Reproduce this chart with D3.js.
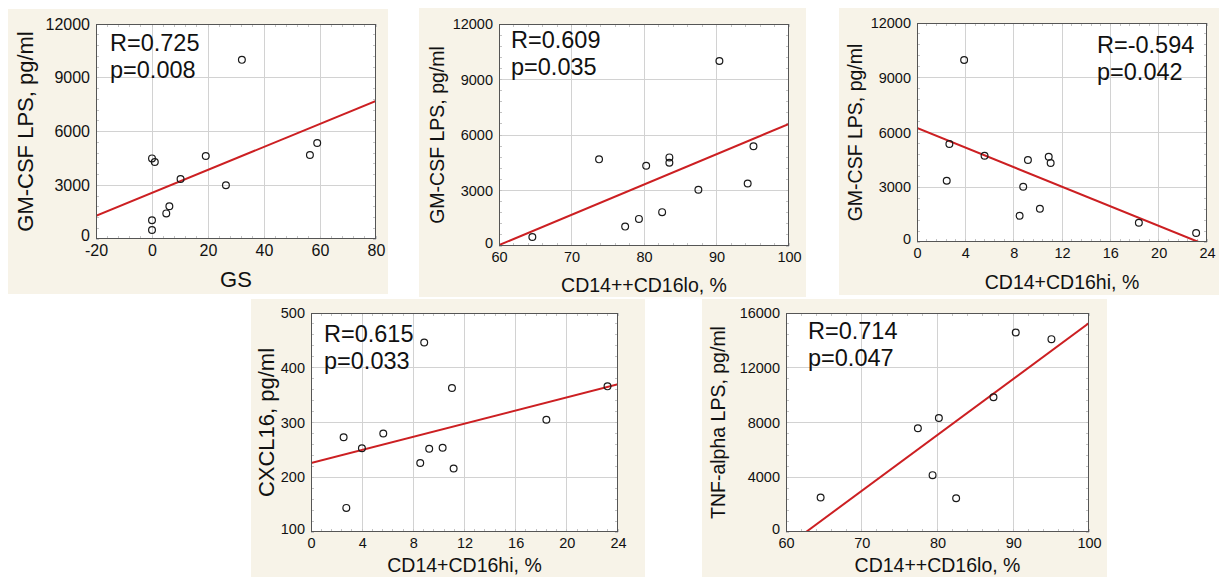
<!DOCTYPE html>
<html>
<head>
<meta charset="utf-8">
<script src="https://cdn.jsdelivr.net/npm/d3@7"></script>
<style>
  html, body { margin: 0; padding: 0; background: #ffffff; }
  svg { display: block; font-family: "Liberation Sans", Arial, sans-serif; }
</style>
</head>
<body>
<svg id="chart" width="1219" height="577"></svg>
<script>
// ---------------- DATA ----------------
// Panel A: GS vs GM-CSF LPS
const gsX      = [0, 1, 0, 0, 5.1, 6.2, 10.2, 19.2, 26.4, 32.1, 56.4, 59.0];
const gsGmcsf  = [4500, 4300, 1050, 500, 1430, 1825, 3350, 4630, 3000, 10000, 4690, 5360];
const gsFitX   = [-20, 80];
const gsFitY   = [1300, 7700];

// Panel B: CD14++CD16lo vs GM-CSF LPS
const loX      = [64.6, 73.8, 77.4, 79.3, 80.3, 82.5, 83.5, 83.5, 87.5, 90.4, 94.3, 95.1];
const loGmcsf  = [490, 4685, 1050, 1465, 4340, 1830, 4790, 4500, 3040, 10000, 3380, 5390];
const loFitX   = [60, 100];
const loFitY   = [50, 6600];

// Panel C: CD14+CD16hi vs GM-CSF LPS
const hiX      = [2.46, 2.68, 3.9, 5.59, 8.49, 8.79, 9.18, 10.17, 10.9, 11.06, 18.36, 23.1];
const hiGmcsf  = [3360, 5370, 9970, 4730, 1440, 3030, 4490, 1825, 4675, 4330, 1057, 493];
const hiFitX   = [0, 23.3];
const hiFitY   = [6250, 0];

// Panel D: CD14+CD16hi vs CXCL16
const cxX      = [2.55, 2.76, 3.98, 5.65, 8.54, 8.85, 9.24, 10.29, 11.02, 11.15, 18.4, 23.18];
const cxY      = [273, 144, 253, 280, 226, 446, 252, 254, 363, 216, 305, 366];
const cxFitX   = [0, 24];
const cxFitY   = [226, 370];

// Panel E: CD14++CD16lo vs TNF-alpha LPS
const tnfX     = [64.57, 77.41, 79.35, 80.18, 82.46, 87.39, 90.33, 95.04];
const tnfY     = [2520, 7575, 4155, 8330, 2470, 9845, 14580, 14090];
const tnfFitX  = [62.64, 100];
const tnfFitY  = [0, 15265];

// Tick labels
const ticksGS     = [-20, 0, 20, 40, 60, 80];
const ticksLo     = [60, 70, 80, 90, 100];
const ticksHi     = [0, 4, 8, 12, 16, 20, 24];
const ticksGmcsf  = [0, 3000, 6000, 9000, 12000];
const ticksCxcl   = [100, 200, 300, 400, 500];
const ticksTnf    = [0, 4000, 8000, 12000, 16000];

// Stats texts
const statsA = ["R=0.725", "p=0.008"];
const statsB = ["R=0.609", "p=0.035"];
const statsC = ["R=-0.594", "p=0.042"];
const statsD = ["R=0.615", "p=0.033"];
const statsE = ["R=0.714", "p=0.047"];

// ---------------- LAYOUT / DRAW ----------------
const svg = d3.select("#chart");
const BEIGE = "#f7f3e8";
const RED = "#cc1f22";
const fmt = d => String(d);   // plain hyphen-minus like the reference

const panels = [
  { id: "A", bg: [8, 9, 380, 285], plot: [96, 24, 376, 239],
    xs: gsX, ys: gsGmcsf, fx: gsFitX, fy: gsFitY,
    xt: ticksGS, yt: ticksGmcsf, xlab: "GS", ylab: "GM-CSF LPS, pg/ml",
    stats: statsA, statX: 110, statY: 51, statAnchor: "start",
    tickFs: 16, xlabFs: 22, ylabFs: 22, ylabOff: 71, xlabOff: 48 },
  { id: "B", bg: [419, 8, 387, 289], plot: [499, 24, 789, 246],
    xs: loX, ys: loGmcsf, fx: loFitX, fy: loFitY,
    xt: ticksLo, yt: ticksGmcsf, xlab: "CD14++CD16lo, %", ylab: "GM-CSF LPS, pg/ml",
    stats: statsB, statX: 511, statY: 48, statAnchor: "start",
    tickFs: 14.5, xlabFs: 19.5, ylabFs: 19.5, ylabOff: 62, xlabOff: 46 },
  { id: "C", bg: [839, 8, 380, 287], plot: [917, 23, 1207, 242],
    xs: hiX, ys: hiGmcsf, fx: hiFitX, fy: hiFitY,
    xt: ticksHi, yt: ticksGmcsf, xlab: "CD14+CD16hi, %", ylab: "GM-CSF LPS, pg/ml",
    stats: statsC, statX: 1097, statY: 53, statAnchor: "start",
    tickFs: 14.5, xlabFs: 19.5, ylabFs: 19.5, ylabOff: 62, xlabOff: 47 },
  { id: "D", bg: [251, 299, 394, 278], plot: [311, 313, 618, 532],
    xs: cxX, ys: cxY, fx: cxFitX, fy: cxFitY,
    xt: ticksHi, yt: ticksCxcl, xlab: "CD14+CD16hi, %", ylab: "CXCL16, pg/ml",
    stats: statsD, statX: 324, statY: 342, statAnchor: "start",
    tickFs: 14.5, xlabFs: 19.5, ylabFs: 22, ylabOff: 45, xlabOff: 40 },
  { id: "E", bg: [702, 299, 405, 278], plot: [786, 313, 1089, 532],
    xs: tnfX, ys: tnfY, fx: tnfFitX, fy: tnfFitY,
    xt: ticksLo, yt: ticksTnf, xlab: "CD14++CD16lo, %", ylab: "TNF-alpha LPS, pg/ml",
    stats: statsE, statX: 808, statY: 339, statAnchor: "start",
    tickFs: 14.5, xlabFs: 19.5, ylabFs: 19.5, ylabOff: 68, xlabOff: 40 }
];

panels.forEach(p => {
  const [x0, y0, x1, y1] = p.plot;
  const g = svg.append("g");

  // beige background
  g.append("rect").attr("x", p.bg[0]).attr("y", p.bg[1])
    .attr("width", p.bg[2]).attr("height", p.bg[3]).attr("fill", BEIGE);

  const x = d3.scaleLinear().domain(d3.extent(p.xt)).range([x0, x1]);
  const y = d3.scaleLinear().domain(d3.extent(p.yt)).range([y1, y0]);

  // plot area
  g.append("rect").attr("x", x0).attr("y", y0).attr("width", x1 - x0).attr("height", y1 - y0)
    .attr("fill", "#ffffff");

  // grid lines
  g.append("g").selectAll("line").data(p.xt.slice(1, -1)).join("line")
    .attr("x1", d => x(d)).attr("x2", d => x(d)).attr("y1", y0).attr("y2", y1)
    .attr("stroke", "#d2d2d2").attr("stroke-width", 1).attr("shape-rendering", "crispEdges");
  g.append("g").selectAll("line").data(p.yt.slice(1, -1)).join("line")
    .attr("x1", x0).attr("x2", x1).attr("y1", d => y(d)).attr("y2", d => y(d))
    .attr("stroke", "#d2d2d2").attr("stroke-width", 1).attr("shape-rendering", "crispEdges");

  // minor ticks (inward on all four sides)
  const xStep = p.xt[1] - p.xt[0], yStep = p.yt[1] - p.yt[0];
  const xMinor = d3.range(p.xt[0], p.xt[p.xt.length - 1] + 1e-9, xStep / 5);
  const yMinor = d3.range(p.yt[0], p.yt[p.yt.length - 1] + 1e-9, yStep / 5);
  const mg = g.append("g").attr("stroke", "#c4c4c4").attr("stroke-width", 1).attr("shape-rendering", "crispEdges");
  mg.append("g").selectAll("line").data(xMinor).join("line")
    .attr("x1", d => x(d)).attr("x2", d => x(d)).attr("y1", y1).attr("y2", y1 - 3);
  mg.append("g").selectAll("line").data(xMinor).join("line")
    .attr("x1", d => x(d)).attr("x2", d => x(d)).attr("y1", y0).attr("y2", y0 + 3);
  mg.append("g").selectAll("line").data(yMinor).join("line")
    .attr("x1", x0).attr("x2", x0 + 3).attr("y1", d => y(d)).attr("y2", d => y(d));
  mg.append("g").selectAll("line").data(yMinor).join("line")
    .attr("x1", x1).attr("x2", x1 - 3).attr("y1", d => y(d)).attr("y2", d => y(d));

  // axes (labels only, via d3 axis)
  const xAxis = g.append("g").attr("transform", `translate(0,${y1})`)
    .call(d3.axisBottom(x).tickValues(p.xt).tickSize(0).tickPadding(6).tickFormat(fmt));
  const yAxis = g.append("g").attr("transform", `translate(${x0},0)`)
    .call(d3.axisLeft(y).tickValues(p.yt).tickSize(0).tickPadding(6).tickFormat(fmt));
  [xAxis, yAxis].forEach(a => {
    a.select(".domain").remove();
    a.selectAll("text").attr("font-size", p.tickFs).attr("fill", "#111")
      .attr("font-family", '"Liberation Sans", Arial, sans-serif');
  });
  // nudge the bottom y tick label up slightly so it does not collide with the first x label
  yAxis.selectAll(".tick").filter((d, i) => i === 0).select("text").attr("dy", "0.1em");

  // clip for fit line
  const clipId = "clip" + p.id;
  svg.append("clipPath").attr("id", clipId).append("rect")
    .attr("x", x0).attr("y", y0).attr("width", x1 - x0).attr("height", y1 - y0);

  // regression line
  const fitPts = p.fx.map((v, i) => [v, p.fy[i]]);
  g.append("path").datum(fitPts)
    .attr("d", d3.line().x(d => x(d[0])).y(d => y(d[1])))
    .attr("fill", "none").attr("stroke", RED).attr("stroke-width", 2)
    .attr("clip-path", `url(#${clipId})`);

  // frame
  g.append("rect").attr("x", x0 + 0.5).attr("y", y0 + 0.5)
    .attr("width", x1 - x0 - 1).attr("height", y1 - y0 - 1)
    .attr("fill", "none").attr("stroke", "#555").attr("stroke-width", 1)
    .attr("shape-rendering", "crispEdges");

  // points
  const pts = p.xs.map((v, i) => [v, p.ys[i]]);
  g.append("g").selectAll("circle").data(pts).join("circle")
    .attr("cx", d => x(d[0])).attr("cy", d => y(d[1])).attr("r", 3.4)
    .attr("fill", "none").attr("stroke", "#1a1a1a").attr("stroke-width", 1.2);

  // stats text
  p.stats.forEach((t, i) => {
    g.append("text").attr("x", p.statX).attr("y", p.statY + i * 27)
      .attr("text-anchor", p.statAnchor).attr("font-size", 23.5).attr("fill", "#111").text(t);
  });

  // axis titles
  g.append("text").attr("x", (x0 + x1) / 2).attr("y", y1 + p.xlabOff)
    .attr("text-anchor", "middle").attr("font-size", p.xlabFs).attr("fill", "#111").text(p.xlab);
  g.append("text")
    .attr("transform", `translate(${x0 - p.ylabOff},${(y0 + y1) / 2}) rotate(-90)`)
    .attr("text-anchor", "middle").attr("dominant-baseline", "central")
    .attr("font-size", p.ylabFs).attr("fill", "#111").text(p.ylab);
});
</script>
</body>
</html>
